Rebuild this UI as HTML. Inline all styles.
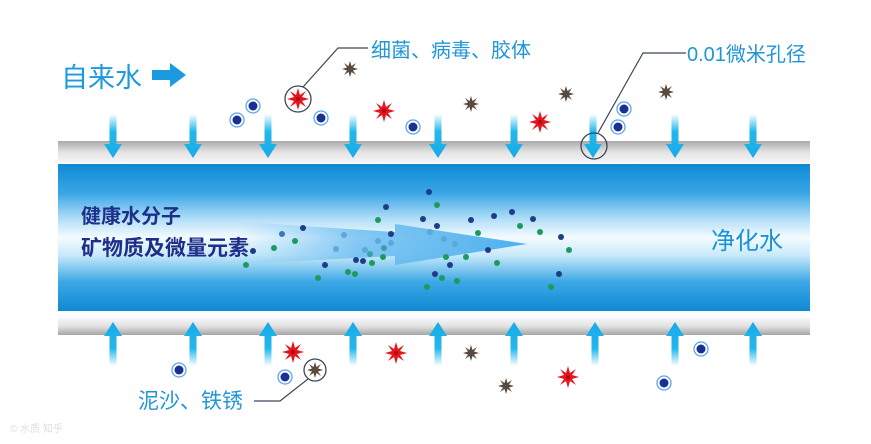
<!DOCTYPE html>
<html><head><meta charset="utf-8"><style>
html,body{margin:0;padding:0;background:#fff;width:871px;height:444px;overflow:hidden}
svg{display:block}
text{font-family:"Liberation Sans","Noto Sans CJK SC",sans-serif}
</style></head><body>
<svg width="871" height="444" viewBox="0 0 871 444" xmlns="http://www.w3.org/2000/svg">
<defs>
<linearGradient id="band" x1="0" y1="0" x2="0" y2="1">
<stop offset="0" stop-color="#0f8ad5"/>
<stop offset="0.2" stop-color="#3aa6e6"/>
<stop offset="0.38" stop-color="#b5e0f8"/>
<stop offset="0.5" stop-color="#f4fbff"/>
<stop offset="0.62" stop-color="#c9e9fa"/>
<stop offset="0.8" stop-color="#3ea8e6"/>
<stop offset="1" stop-color="#0f89d4"/>
</linearGradient>
<linearGradient id="pipeT" x1="0" y1="0" x2="0" y2="1">
<stop offset="0" stop-color="#a9a9a9"/>
<stop offset="0.5" stop-color="#e2e2e2"/>
<stop offset="1" stop-color="#f7f7f7"/>
</linearGradient>
<linearGradient id="pipeB" x1="0" y1="0" x2="0" y2="1">
<stop offset="0" stop-color="#f7f7f7"/>
<stop offset="0.5" stop-color="#e0e0e0"/>
<stop offset="1" stop-color="#a5a5a5"/>
</linearGradient>
<linearGradient id="arrD" x1="0" y1="0" x2="0" y2="1">
<stop offset="0" stop-color="#22b8ec" stop-opacity="0"/>
<stop offset="0.4" stop-color="#22b8ec"/>
<stop offset="1" stop-color="#1aa9e6"/>
</linearGradient>
<linearGradient id="arrU" x1="0" y1="1" x2="0" y2="0">
<stop offset="0" stop-color="#22b8ec" stop-opacity="0"/>
<stop offset="0.4" stop-color="#22b8ec"/>
<stop offset="1" stop-color="#1aa9e6"/>
</linearGradient>
<linearGradient id="bigArr" x1="0" y1="0" x2="1" y2="0">
<stop offset="0" stop-color="#7cc6f2" stop-opacity="0"/>
<stop offset="0.4" stop-color="#6bbdf0" stop-opacity="0.8"/>
<stop offset="1" stop-color="#4cb0ee"/>
</linearGradient>
<g id="ad"><path d="M-3.5,0 H3.5 V30 H9 L0,44 L-9,30 H-3.5Z" fill="url(#arrD)"/></g>
<g id="au"><path d="M-3.5,0 H3.5 V-30 H9 L0,-44 L-9,-30 H-3.5Z" fill="url(#arrU)"/></g>
<g id="blue"><circle r="7" fill="#fff" stroke="#5aa8e8" stroke-width="1.3"/><circle r="4.5" fill="#1b2f94"/></g>
<g id="red"><polygon points="0,-11 2,-4 8,-8 4,-2 11,0 4,2 8,8 2,4 0,11 -2,4 -8,8 -4,2 -11,0 -4,-2 -8,-8 -2,-4" fill="#e8141c"/><circle r="2" fill="#a0101a"/></g>
<g id="brown"><polygon points="0,-8 1.5,-3 6,-6 3,-1.5 8,0 3,1.5 6,6 1.5,3 0,8 -1.5,3 -6,6 -3,1.5 -8,0 -3,-1.5 -6,-6 -1.5,-3" fill="#5a4a3e"/></g>
</defs>

<rect x="58" y="141" width="752" height="22" fill="url(#pipeT)"/>
<rect x="58" y="164" width="752" height="147" fill="url(#band)"/>
<rect x="58" y="318" width="752" height="17" fill="url(#pipeB)"/>

<path d="M240,222 L395,232 L395,224 L527,244 L395,265 L395,256 L240,264Z" fill="url(#bigArr)"/>

<g fill="#1f3c88">
<circle cx="429" cy="192" r="3"/><circle cx="386" cy="207" r="3"/><circle cx="423" cy="219" r="3"/><circle cx="437" cy="226" r="3"/><circle cx="471" cy="220" r="3"/><circle cx="494" cy="216" r="3"/><circle cx="512" cy="212" r="3"/><circle cx="533" cy="219" r="3"/><circle cx="561" cy="237" r="3"/><circle cx="303" cy="228" r="3"/><circle cx="282" cy="234" r="3" fill="#3a78b8"/><circle cx="253" cy="251" r="3"/><circle cx="391" cy="234" r="3"/><circle cx="356" cy="260" r="3"/><circle cx="363" cy="261" r="3"/><circle cx="325" cy="265" r="3"/><circle cx="488" cy="250" r="3"/><circle cx="450" cy="265" r="3"/><circle cx="435" cy="274" r="3"/><circle cx="559" cy="274" r="3"/>
</g>
<g fill="#1e9a5c">
<circle cx="437" cy="205" r="3"/><circle cx="378" cy="220" r="3"/><circle cx="520" cy="226" r="3"/><circle cx="540" cy="232" r="3"/><circle cx="478" cy="233" r="3"/><circle cx="569" cy="250" r="3"/><circle cx="295" cy="241" r="3"/><circle cx="274" cy="248" r="3"/><circle cx="246" cy="265" r="3"/><circle cx="383" cy="257" r="3"/><circle cx="372" cy="263" r="3"/><circle cx="318" cy="278" r="3"/><circle cx="348" cy="272" r="3"/><circle cx="355" cy="274" r="3"/><circle cx="446" cy="257" r="3"/><circle cx="466" cy="257" r="3"/><circle cx="497" cy="263" r="3"/><circle cx="442" cy="278" r="3"/><circle cx="457" cy="281" r="3"/><circle cx="427" cy="287" r="3"/><circle cx="551" cy="287" r="3"/>
</g>
<g fill="#5aa8dc">
<circle cx="344" cy="235" r="3"/><circle cx="336" cy="249" r="3"/><circle cx="365" cy="250" r="3"/><circle cx="378" cy="241" r="3"/><circle cx="391" cy="243" r="3"/><circle cx="430" cy="232" r="3"/><circle cx="444" cy="239" r="3"/><circle cx="455" cy="244" r="3"/><circle cx="384" cy="248" r="3" fill="#3aa0a8"/><circle cx="370" cy="254" r="3" fill="#3aa0a8"/>
</g>

<use href="#ad" x="113" y="114"/><use href="#ad" x="193" y="114"/><use href="#ad" x="268" y="114"/><use href="#ad" x="353" y="114"/><use href="#ad" x="438" y="114"/><use href="#ad" x="514" y="114"/><use href="#ad" x="593" y="114"/><use href="#ad" x="675" y="114"/><use href="#ad" x="753" y="114"/>
<use href="#au" x="113" y="366"/><use href="#au" x="193" y="366"/><use href="#au" x="268" y="366"/><use href="#au" x="353" y="366"/><use href="#au" x="438" y="366"/><use href="#au" x="514" y="366"/><use href="#au" x="595" y="366"/><use href="#au" x="675" y="366"/><use href="#au" x="753" y="366"/>

<use href="#blue" x="237" y="120"/><use href="#blue" x="253" y="106"/><use href="#blue" x="321" y="118"/><use href="#blue" x="413" y="127"/><use href="#blue" x="624" y="109"/><use href="#blue" x="618" y="127"/>
<use href="#red" x="298" y="99"/><use href="#red" x="384" y="111"/><use href="#red" x="540" y="122"/>
<use href="#brown" x="350" y="69"/><use href="#brown" x="471" y="104"/><use href="#brown" x="566" y="94"/><use href="#brown" x="666" y="92"/>
<use href="#blue" x="179" y="370"/><use href="#blue" x="285" y="377"/><use href="#blue" x="701" y="349"/><use href="#blue" x="664" y="383"/>
<use href="#red" x="293" y="352"/><use href="#red" x="396" y="353"/><use href="#red" x="568" y="377"/>
<use href="#brown" x="315" y="370"/><use href="#brown" x="471" y="353"/><use href="#brown" x="506" y="386"/>

<circle cx="298" cy="99" r="13" fill="none" stroke="#3c4658" stroke-width="1.3"/>
<polyline points="303,87 338,48 368,48" fill="none" stroke="#3c4658" stroke-width="1.2"/>
<circle cx="594" cy="146" r="13" fill="none" stroke="#3c4658" stroke-width="1.3"/>
<polyline points="598,133 643,53 686,53" fill="none" stroke="#3c4658" stroke-width="1.2"/>
<circle cx="315" cy="370" r="11" fill="none" stroke="#3c4658" stroke-width="1.3"/>
<polyline points="254,401 280,401 308,379" fill="none" stroke="#3c4658" stroke-width="1.2"/>

<text x="61" y="87" font-size="27" fill="#1c9ae0">自来水</text>
<path d="M152,70 H170 V63 L186,75 L170,87 V80 H152Z" fill="#1c9ae0"/>
<text x="371" y="57" font-size="20" fill="#2196d6">细菌、病毒、胶体</text>
<text x="687" y="61" font-size="20" fill="#2196d6">0.01微米孔径</text>
<text x="138" y="408" font-size="21" fill="#2196d6">泥沙、铁锈</text>
<text x="81" y="223" font-size="20" font-weight="bold" fill="#1d2f88">健康水分子</text>
<text x="81" y="255" font-size="21" font-weight="bold" fill="#1d2f88">矿物质及微量元素</text>
<text x="711" y="249" font-size="24" fill="#1a92d8">净化水</text>
<text x="10" y="432" font-size="10" fill="#ddd">© 水质 知乎</text>
</svg>
</body></html>
